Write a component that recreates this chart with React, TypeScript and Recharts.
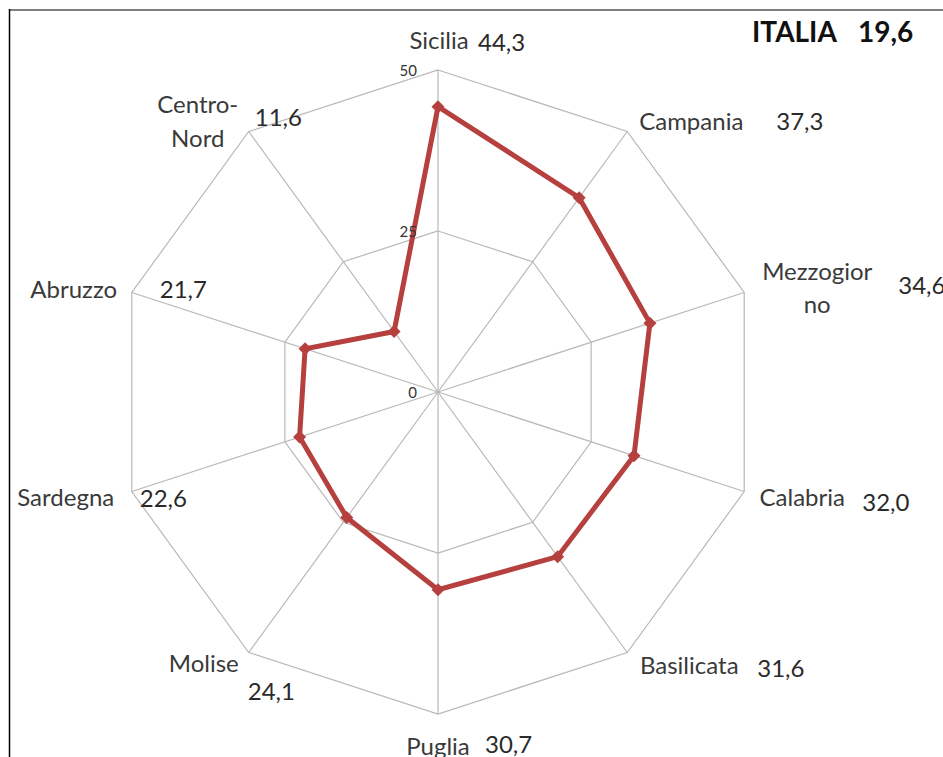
import React from 'react';
import { RadarChart, Radar, PolarGrid, PolarAngleAxis, PolarRadiusAxis } from 'recharts';

const regions = ['Sicilia', 'Campania', 'Mezzogiorno', 'Calabria', 'Basilicata', 'Puglia', 'Molise', 'Sardegna', 'Abruzzo', 'Centro-Nord'];
const labelLines = [['Sicilia'], ['Campania'], ['Mezzogior', 'no'], ['Calabria'], ['Basilicata'], ['Puglia'], ['Molise'], ['Sardegna'], ['Abruzzo'], ['Centro-', 'Nord']];
const values = [44.3, 37.3, 34.6, 32.0, 31.6, 30.7, 24.1, 22.6, 21.7, 11.6];
const radiusDomain = [0, 50];
const totalLabel = 'ITALIA';
const totalValue = 19.6;

const data = regions.map((r, i) => ({ region: r, value: values[i] }));

const W = 943;
const H = 757;
const CX = 438;
const CY = 392;
const R = 322;
const FONT = 'Lato, "Open Sans", sans-serif';
const LINE = '#B5403E';

// label layout: offsets relative to each polygon vertex
const nameOffsets: [number, number][][] = [
  [[1, -31]],
  [[64, -10.5]],
  [[73, -21.5], [73, 11.5]],
  [[58, 4.5]],
  [[62, 11.5]],
  [[0, 31]],
  [[-45, 9.5]],
  [[-66, 4.5]],
  [[-58, -3.5]],
  [[-51, -27.5], [-51, 6.5]],
];
const valueOffsets: [number, number][] = [
  [40, -29], [149, -10.5], [154, -7.5], [118, 9.5], [130, 14.5],
  [47, 29], [-1, 37.5], [8, 5.5], [28, -3.5], [6, -14.5],
];

const fmt = (v: number) => v.toFixed(1).replace('.', ',');

const AngleTick = (props: any) => {
  const { payload } = props;
  const i = regions.indexOf(payload.value);
  if (i < 0) return null;
  const a = ((90 - i * 36) * Math.PI) / 180;
  const vx = CX + R * Math.cos(a);
  const vy = CY - R * Math.sin(a);
  return (
    <g>
      {labelLines[i].map((ln, k) => (
        <text key={k} x={vx + nameOffsets[i][k][0]} y={vy + nameOffsets[i][k][1]} textAnchor="middle"
          dominantBaseline="central" fontFamily={FONT} fontSize={24} fill="#3a3a3a">{ln}</text>
      ))}
      <text x={vx + valueOffsets[i][0]} y={vy + valueOffsets[i][1]} textAnchor="start"
        dominantBaseline="central" fontFamily={FONT} fontSize={24} fill="#2a2a2a">{fmt(values[i])}</text>
    </g>
  );
};

const RadiusTick = (props: any) => {
  const { x, y, payload } = props;
  return (
    <text x={x - 21} y={y} textAnchor="end" dominantBaseline="central" fontFamily={FONT} fontSize={15} fill="#333">
      {payload.value}
    </text>
  );
};

const Diamond = (props: any) => {
  const { cx, cy, index } = props;
  const s = 6.5;
  return <path key={index} d={`M${cx},${cy - s} L${cx + s},${cy} L${cx},${cy + s} L${cx - s},${cy} Z`} fill={LINE} stroke="none" />;
};

export default function App() {
  return (
    <div style={{ position: 'absolute', left: 0, top: 0, width: W, height: H, background: '#fff' }}>
      <RadarChart width={W} height={H} data={data} cx={CX} cy={CY} outerRadius={R} margin={{ top: 0, right: 0, bottom: 0, left: 0 }}>
        <PolarGrid gridType="polygon" stroke="#B8B8B8" strokeWidth={1.2} />
        <PolarAngleAxis dataKey="region" tick={<AngleTick />} tickLine={false} axisLine={false} />
        <PolarRadiusAxis angle={90} domain={radiusDomain} tickCount={3} axisLine={false} tickLine={false} tick={<RadiusTick />} />
        <Radar dataKey="value" stroke={LINE} strokeWidth={5} fill="none" fillOpacity={0} dot={<Diamond />} isAnimationActive={false} />
      </RadarChart>
      <svg width={W} height={H} style={{ position: 'absolute', left: 0, top: 0, pointerEvents: 'none' }}>
        <line x1={9} y1={10} x2={W} y2={10} stroke="#808080" strokeWidth={2} />
        <line x1={9.5} y1={9} x2={9.5} y2={H} stroke="#000" strokeWidth={1.5} />
        <text x={752} y={31} dominantBaseline="central" fontFamily={FONT} fontWeight="bold" fontSize={28} fill="#111">{totalLabel}</text>
        <text x={858} y={31} dominantBaseline="central" fontFamily={FONT} fontWeight="bold" fontSize={28} fill="#111">{fmt(totalValue)}</text>
      </svg>
    </div>
  );
}
